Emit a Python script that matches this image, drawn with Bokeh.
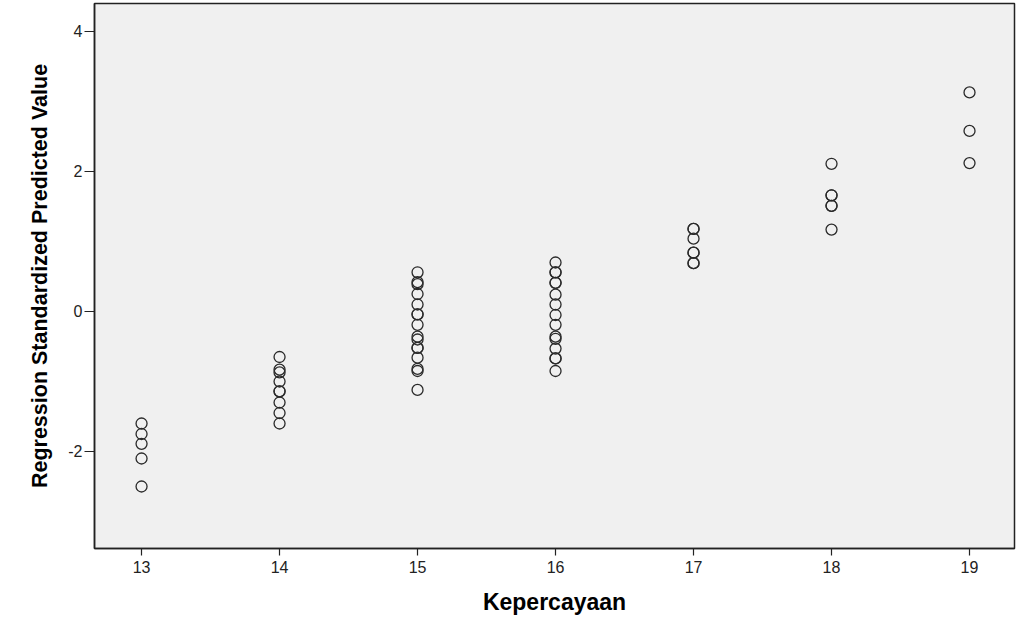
from bokeh.plotting import figure
from bokeh.models import FixedTicker, Range1d
from bokeh.embed import file_html
from bokeh.resources import INLINE

# Data (x = Kepercayaan, y = Regression Standardized Predicted Value)
pred_13 = [-1.60, -1.75, -1.89, -2.10, -2.50]
pred_14 = [-0.65, -0.83, -0.87, -1.00, -1.14, -1.14, -1.30, -1.45, -1.60]
pred_15 = [0.56, 0.42, 0.39, 0.25, 0.10, -0.04, -0.04, -0.19, -0.36, -0.40, -0.52,
           -0.52, -0.66, -0.82, -0.85, -1.12]
pred_16 = [0.70, 0.56, 0.56, 0.41, 0.41, 0.24, 0.10, -0.05, -0.19, -0.36, -0.39,
           -0.53, -0.67, -0.67, -0.85]
pred_17 = [1.18, 1.18, 1.04, 0.84, 0.84, 0.69, 0.69]
pred_18 = [2.11, 1.66, 1.66, 1.51, 1.51, 1.17]
pred_19 = [3.13, 2.58, 2.12]

groups = {13: pred_13, 14: pred_14, 15: pred_15, 16: pred_16,
          17: pred_17, 18: pred_18, 19: pred_19}

x_ticks = [13, 14, 15, 16, 17, 18, 19]
y_ticks = [-2, 0, 2, 4]
y_tick_labels = {-2: "-2", 0: "0", 2: "2", 4: "4"}

xs, ys = [], []
for k, vals in groups.items():
    xs += [k] * len(vals)
    ys += vals

p = figure(width=1020, height=630, output_backend="svg", toolbar_location=None,
           x_range=Range1d(12.659, 19.326), y_range=Range1d(-3.386, 4.4),
           min_border_left=94, min_border_right=6, min_border_top=3,
           min_border_bottom=82)

p.background_fill_color = "#f0f0f0"
p.border_fill_color = "white"
p.outline_line_color = "#222222"
p.outline_line_width = 1.5
p.grid.visible = False

p.scatter(xs, ys, marker="circle", size=11, fill_color=None,
          line_color="#2a2a2a", line_width=1.3)

p.xaxis.ticker = FixedTicker(ticks=x_ticks)
p.yaxis.ticker = FixedTicker(ticks=y_ticks)
p.yaxis.major_label_overrides = y_tick_labels
for ax in (p.xaxis, p.yaxis):
    ax.minor_tick_line_color = None
    ax.major_tick_in = 0
    ax.axis_line_color = "#222222"
    ax.axis_line_width = 1.5
    ax.major_tick_line_color = "#222222"
    ax.major_tick_line_width = 1.2
    ax.major_label_text_font = "Liberation Sans"
    ax.major_label_text_font_size = "16px"
    ax.major_label_text_color = "#222222"
    ax.axis_label_text_font = "Liberation Sans"
    ax.axis_label_text_font_style = "bold"
    ax.axis_label_text_color = "black"

p.xaxis.major_tick_out = 7
p.yaxis.major_tick_out = 10
p.xaxis.major_label_standoff = 5
p.yaxis.major_label_standoff = 2

p.xaxis.axis_label = "Kepercayaan"
p.xaxis.axis_label_text_font_size = "23px"
p.xaxis.axis_label_standoff = 13
p.yaxis.axis_label = "Regression Standardized Predicted Value"
p.yaxis.axis_label_text_font_size = "21.5px"
p.yaxis.axis_label_standoff = 13

open("out.html", "w").write(file_html(p, INLINE))
